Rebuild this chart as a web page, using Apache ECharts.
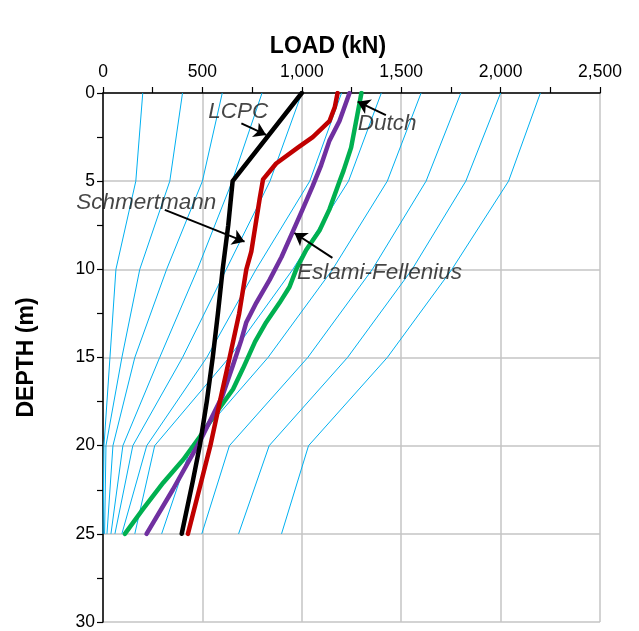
<!DOCTYPE html>
<html><head><meta charset="utf-8">
<script src="https://cdn.jsdelivr.net/npm/echarts@6/dist/echarts.min.js"></script>
<style>html,body{margin:0;padding:0;background:#fff}#c{width:639px;height:631px}</style>
</head><body><div id="c"></div>
<script>
// ---- axis ticks ----
const loadTicks = [0, 500, 1000, 1500, 2000, 2500];
const depthTicks = [0, 5, 10, 15, 20, 25, 30];

// ---- background (blue) load-distribution lines: depth stations and loads ----
const blueDepths = [0, 5, 10, 15, 20, 25];
const blue200  = [200, 165, 65, 35, 5, 0];
const blue400  = [400, 336, 185, 95, 15, 8];
const blue600  = [600, 500, 320, 160, 50, 20];
const blue800  = [800, 650, 475, 285, 100, 40];
const blue1000 = [1000, 840, 620, 400, 150, 60];
const blue1200 = [1200, 1040, 770, 522, 220, 95];
const blue1400 = [1400, 1235, 955, 635, 260, 160];
const blue1600 = [1600, 1430, 1155, 830, 445, 295];
const blue1800 = [1800, 1625, 1355, 1030, 636, 497];
const blue2000 = [2000, 1825, 1555, 1230, 836, 682];
const blue2200 = [2200, 2040, 1755, 1430, 1034, 898];

// ---- CPT method curves ----
const lcpcDepth = [0, 5, 7.5, 10, 12.5, 15, 17.5, 20, 22, 25];
const lcpcLoad  = [1000, 652, 630, 602, 578, 552, 522, 487, 452, 396];

const schmDepth = [0, 0.8, 1.6, 2.5, 3.1, 4, 4.9, 6, 9, 10, 12.5, 15, 17.5, 20, 22, 25];
const schmLoad  = [1180, 1166, 1139, 1055, 980, 871, 805, 788, 746, 721, 685, 637, 588, 540, 495, 427];

const efDepth = [0, 1.6, 2.7, 4.1, 5.3, 6.6, 7.9, 9.3, 10.6, 11.9, 13, 14, 15.5, 17.2, 18.1, 19.7, 22.5, 25];
const efLoad  = [1240, 1189, 1139, 1097, 1054, 1004, 953, 898, 838, 771, 721, 696, 652, 600, 560, 490, 351, 219];

const dutchDepth = [0, 1.2, 3.1, 4.4, 5, 6.6, 7.8, 8.9, 10, 11, 11.9, 13, 14.1, 15.6, 16.8, 18.1, 19.5, 20.8, 22.1, 23.6, 25];
const dutchLoad  = [1300, 1280, 1248, 1210, 1190, 1139, 1089, 1022, 972, 938, 888, 821, 765, 705, 654, 571, 487, 403, 303, 201, 110];

// ---- annotations (load, depth) ----
const labelNames  = ['LCPC', 'Dutch', 'Eslami-Fellenius', 'Schmertmann'];
const labelAt     = [[527, 1.06], [1279, 1.76], [973, 10.17], [572, 6.2]];
const labelSide   = ['right', 'right', 'right', 'left'];
const arrowFrom   = [[696, 1.72], [1423, 1.25], [1154, 9.35], [311, 6.63]];
const arrowTo     = [[821, 2.38], [1281, 0.49], [963, 7.94], [712, 8.43]];

const FONT = '"Liberation Sans", Arial, sans-serif';
const pair = (loads, depths) => loads.map((v, i) => [v, depths[i]]);

const blueSets = [blue200, blue400, blue600, blue800, blue1000, blue1200, blue1400, blue1600, blue1800, blue2000, blue2200];
const series = [];
blueSets.forEach((arr, k) => {
  series.push({
    type: 'line', name: 'b' + k, data: pair(arr, blueDepths),
    showSymbol: false, symbol: 'none', silent: true, z: 2,
    lineStyle: { color: '#00B0F0', width: 1 }
  });
});
const main = [
  { name: 'Dutch', load: dutchLoad, depth: dutchDepth, color: '#00B050', z: 3 },
  { name: 'Eslami-Fellenius', load: efLoad, depth: efDepth, color: '#7030A0', z: 4 },
  { name: 'Schmertmann', load: schmLoad, depth: schmDepth, color: '#C00000', z: 5 },
  { name: 'LCPC', load: lcpcLoad, depth: lcpcDepth, color: '#000000', z: 6 }
];
main.forEach(m => series.push({
  type: 'line', name: m.name, data: pair(m.load, m.depth),
  showSymbol: false, symbol: 'none', silent: true, z: m.z,
  lineStyle: { color: m.color, width: 4.5, cap: 'round', join: 'round' }
}));
series.push({
  type: 'lines', coordinateSystem: 'cartesian2d', z: 7, silent: true,
  symbol: ['none', 'arrow'], symbolSize: [0, 12],
  lineStyle: { color: '#000', width: 2, opacity: 1 },
  data: arrowFrom.map((f, i) => ({ coords: [f, arrowTo[i]] }))
});
series.push({
  type: 'scatter', z: 8, silent: true, symbolSize: 1,
  itemStyle: { color: 'rgba(0,0,0,0)' },
  label: { show: true, distance: 0, fontFamily: FONT, fontStyle: 'italic', fontSize: 22.5, color: '#161616',
           formatter: p => p.name },
  data: labelNames.map((n, i) => ({ name: n, value: labelAt[i], label: { position: labelSide[i] } }))
});

const chart = echarts.init(document.getElementById('c'), null, { renderer: 'canvas' });
chart.setOption({
  animation: false,
  backgroundColor: '#fff',
  grid: { left: 103, right: 39, top: 93, bottom: 9, containLabel: false },
  graphic: [{
    type: 'text', x: 328, y: 47,
    style: { text: 'LOAD (kN)', align: 'center', verticalAlign: 'middle',
             font: 'bold 23px ' + FONT, fill: '#000' }
  }],
  xAxis: {
    type: 'value', position: 'top', min: loadTicks[0], max: loadTicks[loadTicks.length - 1], interval: 500,
    axisLine: { show: true, onZero: false, lineStyle: { color: '#000', width: 1.5 } },
    axisTick: { show: true, inside: false, length: 6, lineStyle: { color: '#000', width: 1.2 } },
    minorTick: { show: true, splitNumber: 2, length: 6, lineStyle: { color: '#000', width: 1.2 } },
    splitLine: { show: true, lineStyle: { color: '#c4c4c4', width: 1.5 } },
    axisLabel: { fontFamily: FONT, fontSize: 17.5, color: '#000', margin: 12,
                 formatter: v => v.toLocaleString('en-US') }
  },
  yAxis: {
    type: 'value', inverse: true, min: depthTicks[0], max: depthTicks[depthTicks.length - 1], interval: 5,
    name: 'DEPTH (m)', nameLocation: 'middle', nameGap: 65, nameRotate: 90,
    nameTextStyle: { fontFamily: FONT, fontWeight: 'bold', fontSize: 23, color: '#000' },
    axisLine: { show: true, onZero: false, lineStyle: { color: '#000', width: 1.5 } },
    axisTick: { show: true, inside: false, length: 6, lineStyle: { color: '#000', width: 1.2 } },
    minorTick: { show: true, splitNumber: 2, length: 6, lineStyle: { color: '#000', width: 1.2 } },
    splitLine: { show: true, lineStyle: { color: '#c4c4c4', width: 1.5 } },
    axisLabel: { fontFamily: FONT, fontSize: 17.5, color: '#000', margin: 8 }
  },
  series: series
});
</script></body></html>
